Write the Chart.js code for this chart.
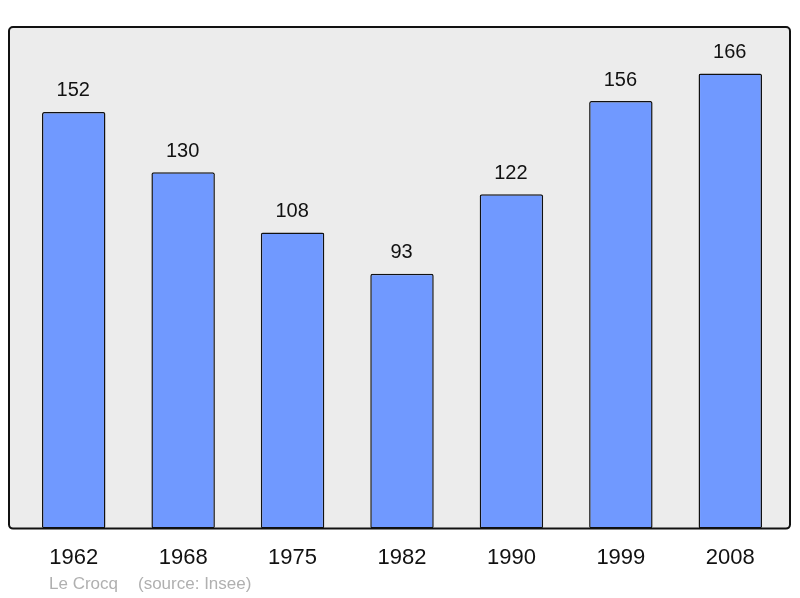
<!DOCTYPE html>
<html>
<head>
<meta charset="utf-8">
<script src="https://cdn.jsdelivr.net/npm/chart.js@4"></script>
<style>
  html, body { margin: 0; padding: 0; background: #fff; }
  #wrap { width: 800px; height: 598px; }
</style>
</head>
<body>
<div id="wrap"><canvas id="chart1" width="800" height="598"></canvas></div>
<script>
const years = ['1962', '1968', '1975', '1982', '1990', '1999', '2008'];
const population = [152, 130, 108, 93, 122, 156, 166];
const footerName = 'Le Crocq';
const footerSource = '(source: Insee)';

// frame behind the bars + value labels + footer
const framePlugin = {
  id: 'frame',
  beforeDatasetsDraw(chart) {
    const a = chart.chartArea;
    const c = chart.ctx;
    const x0 = 9, x1 = 790, y0 = a.top, y1 = a.bottom;
    c.save();
    c.beginPath();
    c.roundRect(x0, y0, x1 - x0, y1 - y0, 4);
    c.fillStyle = '#ececec';
    c.fill();
    c.restore();
  },
  afterDatasetsDraw(chart) {
    const a = chart.chartArea;
    const c = chart.ctx;
    const x0 = 9, x1 = 790, y0 = a.top, y1 = a.bottom;
    c.save();
    c.beginPath();
    c.roundRect(x0, y0, x1 - x0, y1 - y0, 4);
    c.lineWidth = 2;
    c.strokeStyle = '#111';
    c.stroke();

    c.font = '20px "Liberation Sans", Arial, sans-serif';
    c.fillStyle = '#111';
    c.textAlign = 'center';
    c.textBaseline = 'middle';
    const meta = chart.getDatasetMeta(0);
    meta.data.forEach(function(bar, i) {
      c.fillText(String(population[i]), bar.x - 0.5, bar.y - 21);
    });

    c.font = '17px "Liberation Sans", Arial, sans-serif';
    c.fillStyle = '#b0b0b0';
    c.textAlign = 'left';
    c.fillText(footerName, 49, 584);
    c.fillText(footerSource, 138, 584);
    c.restore();
  }
};

new Chart(document.getElementById('chart1'), {
  type: 'bar',
  data: {
    labels: years,
    datasets: [{
      data: population,
      backgroundColor: 'rgb(112, 153, 255)',
      borderColor: '#111',
      borderWidth: 1.5,
      borderRadius: 2,
      borderSkipped: false,
      barPercentage: 0.58,
      categoryPercentage: 1
    }]
  },
  options: {
    responsive: false,
    animation: false,
    layout: {
      padding: { left: 19, right: 15, top: 27, bottom: 11 }
    },
    plugins: {
      legend: { display: false },
      tooltip: { enabled: false },
      title: { display: false }
    },
    scales: {
      y: {
        display: false,
        min: 0,
        max: 183
      },
      x: {
        grid: { display: false, drawTicks: false },
        border: { display: false },
        ticks: {
          color: '#111',
          padding: 16,
          font: { family: '"Liberation Sans", Arial, sans-serif', size: 22 }
        }
      }
    }
  },
  plugins: [framePlugin]
});
</script>
</body>
</html>
